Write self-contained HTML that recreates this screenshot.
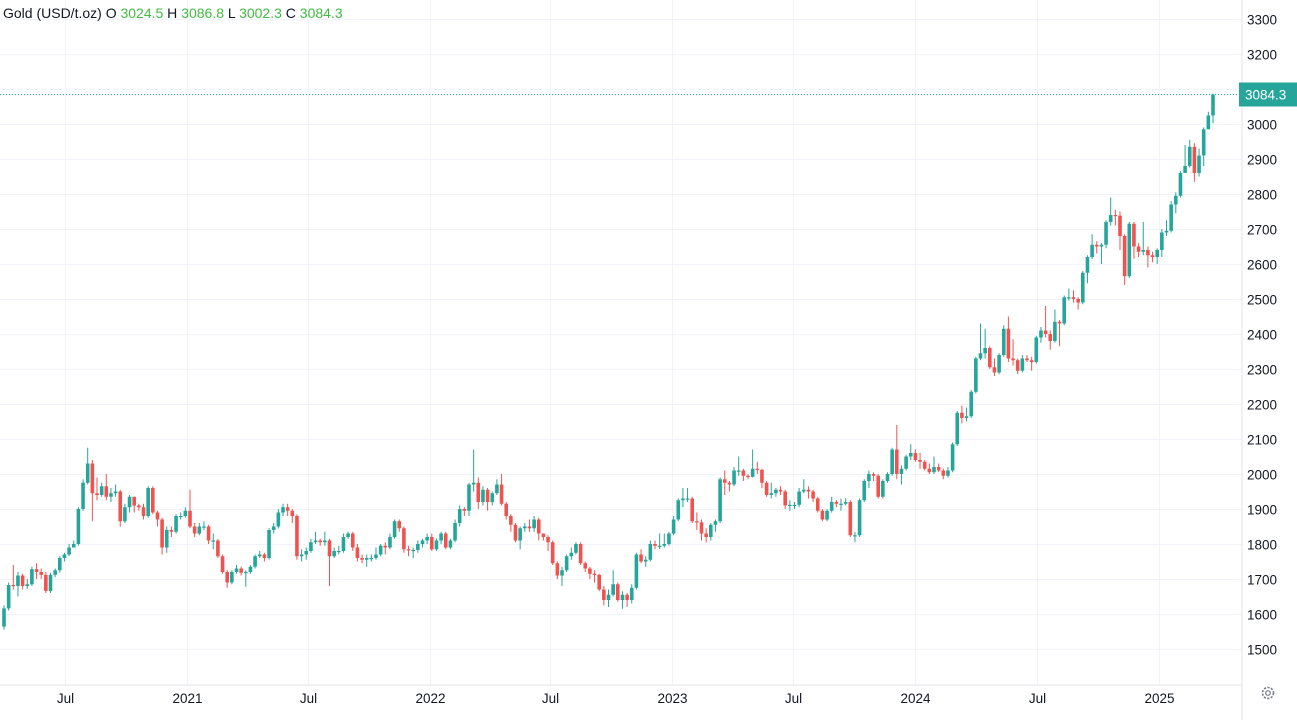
<!DOCTYPE html>
<html><head><meta charset="utf-8"><style>
html,body{margin:0;padding:0;background:#fff;}
svg{display:block;font-family:"Liberation Sans",Arial,sans-serif;}
</style></head><body>
<svg id="chart" width="1297" height="720" viewBox="0 0 1297 720" xmlns="http://www.w3.org/2000/svg">
<rect x="0" y="0" width="1297" height="720" fill="#fff"/>
<g id="grid"></g>
<g id="candles"></g>
<line x1="0" y1="685" x2="1242" y2="685" stroke="#e0e3eb" stroke-width="1"/>
<line x1="1242" y1="0" x2="1242" y2="720" stroke="#e0e3eb" stroke-width="1"/>
<g id="yaxis"></g>
<g id="xaxis"></g>
<g id="lastprice"></g>
<text x="3" y="18" font-size="14" fill="#131722">Gold (USD/t.oz) O <tspan fill="#43b943">3024.5</tspan> H <tspan fill="#43b943">3086.8</tspan> L <tspan fill="#43b943">3002.3</tspan> C <tspan fill="#43b943">3084.3</tspan></text>
<g transform="translate(1268,693)">
<circle r="5.5" fill="none" stroke="#787b86" stroke-width="1.6" stroke-dasharray="2.2 1.4"/>
<circle r="2.3" fill="none" stroke="#787b86" stroke-width="1.2"/>
</g>
</svg>
<script>
const closes=[1616,1683,1680,1710,1680,1685,1728,1720,1712,1666,1712,1725,1760,1770,1790,1800,1900,1975,2030,1945,1940,1965,1935,1945,1950,1865,1905,1935,1910,1905,1880,1960,1890,1870,1790,1840,1835,1880,1880,1895,1850,1830,1850,1850,1810,1810,1765,1720,1690,1720,1730,1718,1720,1735,1765,1770,1760,1840,1850,1890,1905,1895,1880,1765,1770,1780,1805,1810,1805,1810,1765,1780,1780,1820,1830,1790,1760,1755,1760,1760,1770,1795,1790,1820,1865,1845,1785,1782,1783,1800,1810,1820,1785,1810,1830,1790,1810,1860,1900,1895,1970,1975,1920,1955,1920,1945,1970,1915,1880,1855,1810,1845,1850,1845,1870,1830,1820,1805,1745,1710,1725,1765,1775,1800,1745,1730,1715,1712,1670,1640,1655,1685,1640,1655,1640,1675,1770,1750,1755,1800,1795,1795,1800,1830,1870,1925,1930,1930,1865,1862,1830,1820,1855,1865,1985,1975,1970,2010,2010,1995,1992,2015,2012,1975,1940,1945,1955,1950,1910,1912,1912,1950,1955,1950,1930,1895,1870,1895,1920,1915,1915,1920,1825,1825,1925,1980,2000,1995,1935,1980,2000,2070,2000,2015,2050,2060,2040,2035,2015,2005,2020,2010,1995,2010,2085,2175,2160,2165,2235,2330,2345,2360,2305,2290,2340,2415,2330,2325,2295,2330,2325,2320,2390,2410,2400,2380,2435,2430,2505,2505,2500,2490,2575,2620,2655,2650,2655,2720,2740,2738,2680,2565,2715,2650,2635,2640,2625,2620,2640,2690,2695,2770,2795,2860,2880,2935,2860,2910,2985,3024.5,3084.3];
const highs=[1625,1690,1740,1720,1715,1700,1735,1745,1730,1720,1718,1730,1765,1775,1800,1810,1905,1985,2075,2040,1990,1975,2000,1960,1970,1955,1915,1940,1935,1915,1915,1965,1965,1895,1875,1850,1850,1885,1890,1905,1955,1860,1860,1865,1855,1830,1815,1770,1725,1725,1740,1735,1725,1740,1770,1780,1775,1845,1860,1900,1915,1915,1900,1885,1785,1790,1815,1835,1815,1835,1815,1790,1795,1830,1835,1835,1800,1770,1770,1770,1790,1800,1805,1830,1870,1870,1850,1795,1790,1810,1815,1830,1830,1815,1835,1835,1815,1870,1910,1905,1975,2070,1990,1965,1960,1950,1985,2000,1920,1885,1860,1850,1860,1870,1880,1875,1830,1825,1810,1750,1735,1770,1790,1805,1805,1750,1735,1725,1715,1680,1670,1725,1690,1665,1660,1685,1775,1785,1765,1810,1810,1830,1830,1835,1880,1930,1960,1960,1935,1890,1870,1845,1860,1870,1990,2010,1980,2020,2050,2015,2000,2070,2035,2015,1980,1975,1960,1965,1955,1925,1920,1960,1985,1965,1955,1935,1900,1900,1935,1925,1930,1930,1925,1835,1930,1985,2010,2005,2000,1985,2005,2075,2140,2025,2055,2085,2070,2060,2040,2030,2050,2030,2015,2020,2090,2180,2195,2190,2240,2335,2430,2415,2365,2330,2345,2425,2450,2385,2330,2340,2340,2335,2395,2420,2480,2410,2470,2440,2510,2530,2525,2505,2580,2625,2685,2665,2660,2725,2790,2755,2750,2685,2720,2720,2660,2720,2650,2635,2645,2700,2725,2780,2805,2865,2940,2955,2945,2930,2990,3035,3086.8];
const lows=[1555,1610,1670,1650,1670,1672,1680,1700,1700,1660,1660,1705,1718,1750,1765,1790,1795,1895,1970,1865,1925,1935,1925,1920,1935,1850,1860,1890,1890,1895,1870,1875,1885,1850,1770,1775,1820,1830,1870,1875,1845,1820,1825,1840,1800,1785,1760,1715,1675,1685,1715,1710,1678,1715,1730,1760,1750,1755,1830,1845,1880,1880,1860,1755,1750,1755,1775,1800,1795,1795,1680,1760,1770,1775,1815,1780,1750,1745,1735,1750,1755,1765,1770,1785,1815,1835,1775,1765,1760,1775,1790,1800,1780,1780,1800,1785,1785,1805,1850,1880,1880,1950,1900,1910,1895,1910,1940,1910,1870,1835,1805,1785,1835,1835,1835,1810,1810,1780,1740,1700,1680,1720,1755,1770,1740,1720,1700,1690,1665,1625,1620,1650,1635,1615,1620,1630,1670,1745,1735,1750,1785,1785,1790,1795,1825,1865,1905,1920,1860,1840,1810,1805,1810,1835,1860,1940,1950,1965,1995,1980,1985,1990,2000,1960,1935,1930,1935,1940,1900,1895,1900,1905,1945,1930,1920,1890,1865,1865,1890,1905,1895,1910,1820,1805,1820,1920,1960,1980,1930,1930,1975,1995,1985,1970,2010,2040,2035,2015,2010,2000,2000,2005,1985,1990,2005,2080,2145,2150,2160,2230,2325,2330,2300,2280,2285,2335,2320,2310,2285,2290,2320,2295,2315,2375,2390,2355,2375,2365,2425,2495,2490,2470,2485,2545,2615,2630,2600,2645,2710,2710,2640,2540,2560,2615,2620,2625,2590,2605,2600,2620,2680,2690,2745,2790,2870,2875,2835,2850,2880,2995,3002.3];
const firstOpen=1564;
const yTicks=[1500,1600,1700,1800,1900,2000,2100,2200,2300,2400,2500,2600,2700,2800,2900,3000,3100,3200,3300];
const xTickLabels=["Jul","2021","Jul","2022","Jul","2023","Jul","2024","Jul","2025"];
const xTickWeeks=[13.2,39.4,65.4,91.6,117.5,143.6,169.6,195.9,222.1,248.3];
const lastPrice=3084.3;

const NS="http://www.w3.org/2000/svg";
const Y0=19,PMAX=3300,PPX=0.35,X0=4,STEP=4.65;
const yS=p=>Y0+(PMAX-p)*PPX;
const xS=i=>X0+i*STEP;
function mk(tag,attrs,parent){const e=document.createElementNS(NS,tag);for(const k in attrs)e.setAttribute(k,attrs[k]);parent.appendChild(e);return e;}
const grid=document.getElementById('grid'),ya=document.getElementById('yaxis'),xa=document.getElementById('xaxis'),cg=document.getElementById('candles'),lp=document.getElementById('lastprice');
yTicks.forEach(v=>{const y=Math.round(yS(v))+0.5;
 const l=mk('line',{x1:0,x2:1242,y1:y,y2:y,stroke:'#f0f3fa','stroke-width':1},grid);
 
 
 const t=mk('text',{x:1247,y:y+5,'font-size':13.5,fill:'#131722'},ya);t.textContent=v;
 
 
});
xTickLabels.forEach((s,k)=>{const x=Math.round(xS(xTickWeeks[k]))+0.5;
 const l=mk('line',{x1:x,x2:x,y1:0,y2:685,stroke:'#f0f3fa','stroke-width':1},grid);
 
 
 const t=mk('text',{x:x,y:703,'font-size':13.5,fill:'#131722','text-anchor':'middle'},xa);t.textContent=s;
 
 
});
closes.forEach((c,i)=>{const o=i===0?firstOpen:closes[i-1];const up=c>=o;const col=up?'#26a69a':'#ef5350';
 const x=xS(i);const g=mk('g',{},cg);
 
 
 mk('line',{x1:x,x2:x,y1:yS(highs[i]),y2:yS(lows[i]),stroke:col,'stroke-width':1},g);
 const top=yS(Math.max(o,c)),bot=yS(Math.min(o,c));
 mk('rect',{x:x-1.8,y:top,width:3.6,height:Math.max(1.2,bot-top),fill:col},g);
});
const ly=yS(lastPrice);
const dl=mk('line',{x1:0,x2:1242,y1:ly,y2:ly,stroke:'#26a69a','stroke-width':1,'stroke-dasharray':'1 2'},lp);


const bx=mk('rect',{x:1239,y:ly-12,width:58,height:24,fill:'#26a69a'},lp);


const bt=mk('text',{x:1245,y:ly+5,'font-size':13.5,fill:'#fff'},lp);bt.textContent=lastPrice.toFixed(1);


</script>
</body></html>
